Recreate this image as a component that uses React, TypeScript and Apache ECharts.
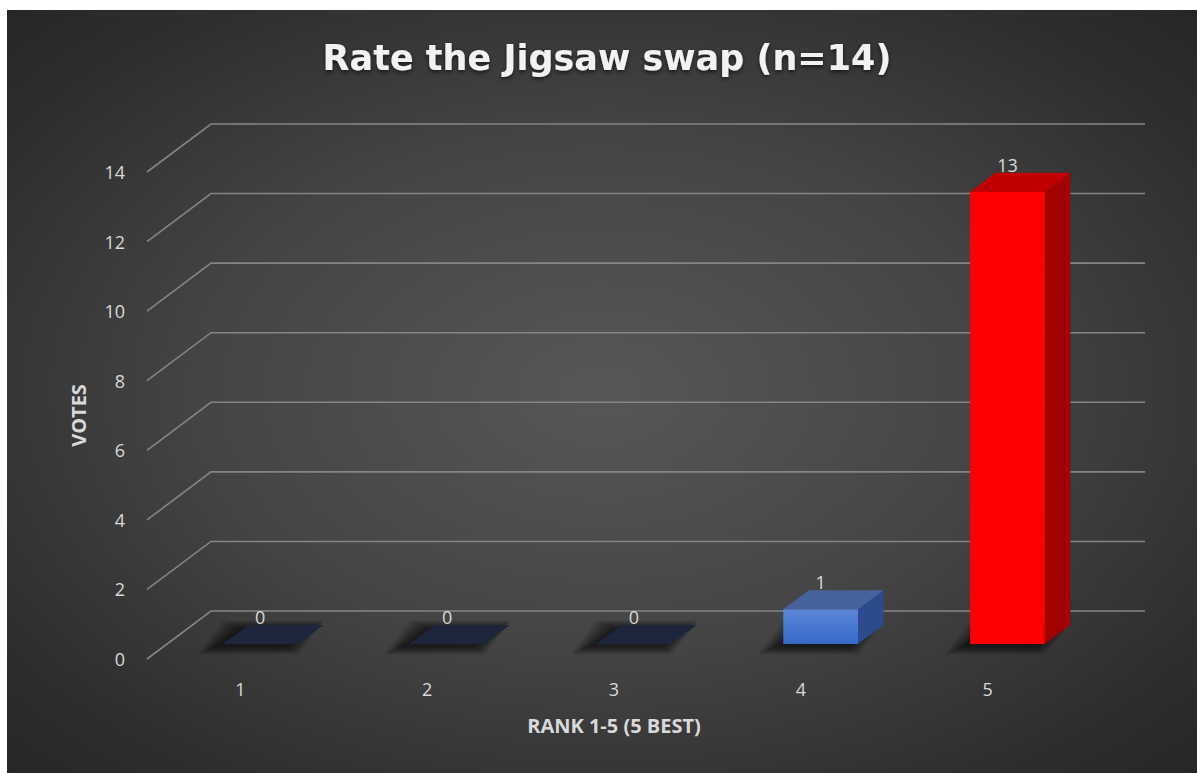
import React, { useEffect, useRef } from "react";
import * as echarts from "echarts";

const categories = ["1", "2", "3", "4", "5"];
const votes = [0, 0, 0, 1, 13];
const yTicks = [0, 2, 4, 6, 8, 10, 12, 14];
const titleText = "Rate the Jigsaw swap (n=14)";
const xName = "RANK 1-5 (5 BEST)";
const yName = "VOTES";

// depth of the 3D box (floor front edge -> back wall)
const DX = 64;
const DY = -48;
const FRONT = 0.31;
const BACK = 0.71;

const FONT = "'Open Sans', 'Noto Sans', sans-serif";

export default function App() {
  const ref = useRef<HTMLDivElement>(null);

  useEffect(() => {
    document.body.style.margin = "0";
    const chart = echarts.init(ref.current!, null, { renderer: "svg" });

    const gridItem = (params: any, api: any) => {
      const cs = params.coordSys;
      const y = api.coord([0, api.value(1)])[1];
      const x0 = cs.x;
      const x1 = cs.x + cs.width;
      return {
        type: "polyline",
        shape: {
          points: [
            [x0, y],
            [x0 + DX, y + DY],
            [x1 + DX, y + DY],
          ],
        },
        style: { stroke: "#858585", lineWidth: 1.6, fill: null },
        silent: true,
      };
    };

    const barItem = (params: any, api: any) => {
      const idx = params.dataIndex;
      const v = api.value(1);
      const base = api.coord([idx, 0]);
      const top = api.coord([idx, v]);
      const band = api.size([1, 0])[0];
      const w = band * 0.4;
      const cx = base[0];
      const fx = FRONT * DX;
      const fy = FRONT * DY;
      const bx = BACK * DX;
      const by = BACK * DY;
      const L = cx - w / 2;
      const R = cx + w / 2;
      const yb = base[1];
      const yt = top[1];
      const isRed = idx === categories.length - 1;
      const zero = v === 0;

      const frontFill = isRed
        ? "#ff0000"
        : new echarts.graphic.LinearGradient(0, 0, 0, 1, [
            { offset: 0, color: "#5b86d8" },
            { offset: 1, color: "#3768c9" },
          ]);
      const topFill = zero ? "#1e263d" : isRed ? "#c00000" : "#46639d";
      const sideFill = isRed ? "#a20000" : "#2b4b8c";

      const children: any[] = [];
      // soft floor shadow, built from stacked translucent footprints
      const layers = [16, 12, 9, 6, 3, 0];
      layers.forEach((k) => {
        const ox = -9;
        const oy = 3;
        const ky = k * 0.45;
        children.push({
          type: "polygon",
          shape: {
            points: [
              [L + fx + ox - k, yb + fy + oy + ky],
              [R + fx + ox + k * 0.6, yb + fy + oy + ky],
              [R + bx + ox + k * 0.6, yb + by + oy - ky],
              [L + bx + ox - k, yb + by + oy - ky],
            ],
          },
          style: { fill: "rgba(0,0,0,0.13)" },
          silent: true,
        });
      });
      if (!zero) {
        children.push({
          type: "polygon",
          shape: {
            points: [
              [R + fx, yt + fy],
              [R + bx, yt + by],
              [R + bx, yb + by],
              [R + fx, yb + fy],
            ],
          },
          style: { fill: sideFill },
        });
        children.push({
          type: "rect",
          shape: { x: L + fx, y: yt + fy, width: w, height: yb - yt },
          style: { fill: frontFill },
        });
      }
      children.push({
        type: "polygon",
        shape: {
          points: [
            [L + fx, yt + fy],
            [R + fx, yt + fy],
            [R + bx, yt + by],
            [L + bx, yt + by],
          ],
        },
        style: { fill: topFill },
      });
      children.push({
        type: "text",
        style: {
          text: String(v),
          x: cx + fx,
          y: yt + by - 8,
          fill: "#d9d9d9",
          fontSize: 18,
          fontFamily: FONT,
          textAlign: "center",
          textVerticalAlign: "middle",
        },
      });
      return { type: "group", children };
    };

    chart.setOption({
      animation: false,
      backgroundColor: "#ffffff",
      title: {
        text: titleText,
        left: 602,
        textAlign: "center",
        top: 35,
        textStyle: {
          color: "#f2f2f2",
          fontSize: 35,
          fontWeight: "bold",
          fontFamily: "'DejaVu Sans', sans-serif",
          textShadowColor: "rgba(0,0,0,0.6)",
          textShadowBlur: 4,
          textShadowOffsetY: 2,
        },
      },
      graphic: [
        {
          type: "rect",
          z: -10,
          silent: true,
          shape: { x: 7, y: 10, width: 1190, height: 763 },
          style: {
            fill: new echarts.graphic.RadialGradient(0.5, 0.5, 0.75, [
              { offset: 0, color: "#575757" },
              { offset: 0.45, color: "#444444" },
              { offset: 0.8, color: "#2d2d2d" },
              { offset: 1, color: "#242424" },
            ]),
          },
        },
      ],
      grid: { left: 147, top: 172, width: 934, height: 487 },
      xAxis: {
        type: "category",
        data: categories,
        name: xName,
        nameLocation: "middle",
        nameGap: 56,
        nameTextStyle: {
          color: "#d9d9d9",
          fontSize: 20,
          fontWeight: "bold",
          fontFamily: FONT,
        },
        axisLine: { show: false },
        axisTick: { show: false },
        axisLabel: {
          color: "#d9d9d9",
          fontSize: 18,
          fontFamily: FONT,
          margin: 21,
        },
        splitLine: { show: false },
      },
      yAxis: {
        type: "value",
        min: 0,
        max: 14,
        interval: 2,
        name: yName,
        nameLocation: "middle",
        nameRotate: 90,
        nameGap: 59,
        nameTextStyle: {
          color: "#d9d9d9",
          fontSize: 20,
          fontWeight: "bold",
          fontFamily: FONT,
        },
        axisLine: { show: false },
        axisTick: { show: false },
        axisLabel: {
          color: "#d9d9d9",
          fontSize: 18,
          fontFamily: FONT,
          margin: 22,
        },
        splitLine: { show: false },
      },
      series: [
        {
          type: "custom",
          z: 1,
          silent: true,
          renderItem: gridItem,
          data: yTicks.map((t) => [categories[0], t]),
        },
        {
          type: "custom",
          z: 3,
          renderItem: barItem,
          data: votes.map((v, i) => [categories[i], v]),
        },
      ],
    });

    return () => chart.dispose();
  }, []);

  return <div ref={ref} style={{ width: 1197, height: 773 }} />;
}
